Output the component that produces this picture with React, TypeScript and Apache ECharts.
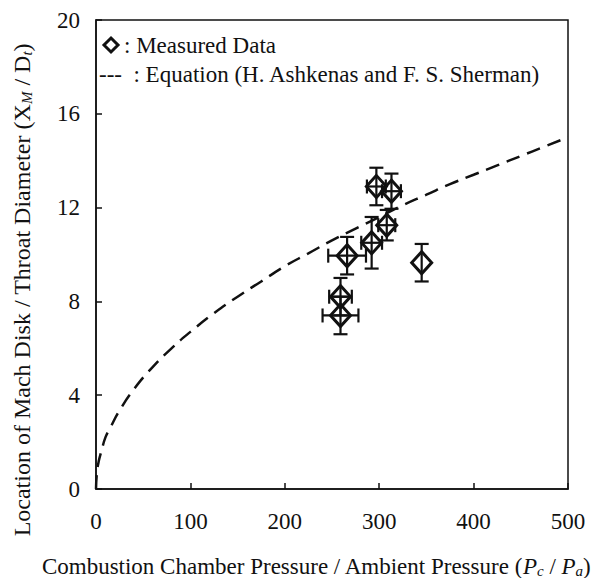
import React, { useEffect, useRef } from "react";
import * as echarts from "echarts";

// Measured data (Pc/Pa, XM/Dt) with error half-widths
const measuredX = [297, 313, 308, 292, 266, 345, 259, 259];
const measuredY = [12.9, 12.7, 11.25, 10.5, 9.95, 9.65, 8.2, 7.4];
const xErr = [10, 10, 9, 11, 20, 0, 12, 19];
const yErr = [0.8, 0.75, 0.65, 1.1, 0.8, 0.8, 0.8, 0.8];

// Equation curve (Ashkenas & Sherman)
const eqX = [0, 1, 3, 6, 10, 15, 25, 40, 60, 80, 100, 125, 150, 175, 200, 225, 250, 275, 300, 325, 350, 375, 400, 425, 450, 475, 500];
const eqY = [0, 0.7, 1.2, 1.65, 2.2, 2.6, 3.35, 4.25, 5.2, 6.0, 6.7, 7.5, 8.2, 8.85, 9.5, 10.05, 10.6, 11.1, 11.6, 12.1, 12.55, 13.0, 13.4, 13.8, 14.2, 14.6, 15.0];

const xTicks = [0, 100, 200, 300, 400, 500];
const yTicks = [0, 4, 8, 12, 16, 20];

const FONT = "Liberation Serif";
const INK = "#111";

export default function App() {
  const ref = useRef<HTMLDivElement>(null);
  useEffect(() => {
    if (!ref.current) return;
    const chart = echarts.init(ref.current, null, { renderer: "svg" });
    const errData = measuredX.map((x, i) => [x, measuredY[i], xErr[i], yErr[i]]);
    const ptData = measuredX.map((x, i) => [x, measuredY[i]]);
    const eqData = eqX.map((x, i) => [x, eqY[i]]);
    const option: any = {
      animation: false,
      backgroundColor: "#fff",
      grid: {
        left: 96,
        right: 36,
        top: 20,
        bottom: 97,
        show: true,
        borderColor: INK,
        borderWidth: 1.5,
        backgroundColor: "transparent",
        outerBoundsMode: "none",
        containLabel: false,
      },
      xAxis: {
        type: "value",
        min: xTicks[0],
        max: xTicks[xTicks.length - 1],
        interval: 100,
        axisLine: { show: true, lineStyle: { color: INK, width: 1.5 } },
        axisTick: { show: true, inside: true, length: 6, lineStyle: { color: INK, width: 1.5 } },
        splitLine: { show: false },
        axisLabel: { fontFamily: FONT, fontSize: 23, color: INK, margin: 21 },
      },
      yAxis: {
        type: "value",
        min: yTicks[0],
        max: yTicks[yTicks.length - 1],
        interval: 4,
        axisLine: { show: true, lineStyle: { color: INK, width: 1.5 } },
        axisTick: { show: true, inside: true, length: 6, lineStyle: { color: INK, width: 1.5 } },
        splitLine: { show: false },
        axisLabel: { fontFamily: FONT, fontSize: 23, color: INK, margin: 16 },
      },
      series: [
        {
          type: "line",
          data: eqData,
          smooth: true,
          showSymbol: false,
          symbol: "none",
          lineStyle: { color: INK, width: 2.5, type: [14, 8] },
          z: 2,
        },
        {
          type: "custom",
          data: errData,
          encode: { x: 0, y: 1 },
          z: 3,
          renderItem: (params: any, api: any) => {
            const x = api.value(0);
            const y = api.value(1);
            const ex = api.value(2);
            const ey = api.value(3);
            const cap = 7;
            const style = { stroke: INK, lineWidth: 2.2 };
            const children: any[] = [];
            if (ey > 0) {
              const t = api.coord([x, y + ey]);
              const b = api.coord([x, y - ey]);
              children.push(
                { type: "line", shape: { x1: t[0], y1: t[1], x2: b[0], y2: b[1] }, style },
                { type: "line", shape: { x1: t[0] - cap, y1: t[1], x2: t[0] + cap, y2: t[1] }, style },
                { type: "line", shape: { x1: b[0] - cap, y1: b[1], x2: b[0] + cap, y2: b[1] }, style }
              );
            }
            if (ex > 0) {
              const l = api.coord([x - ex, y]);
              const r = api.coord([x + ex, y]);
              children.push(
                { type: "line", shape: { x1: l[0], y1: l[1], x2: r[0], y2: r[1] }, style },
                { type: "line", shape: { x1: l[0], y1: l[1] - cap, x2: l[0], y2: l[1] + cap }, style },
                { type: "line", shape: { x1: r[0], y1: r[1] - cap, x2: r[0], y2: r[1] + cap }, style }
              );
            }
            return { type: "group", children };
          },
        },
        {
          type: "scatter",
          data: ptData,
          symbol: "diamond",
          symbolSize: [20, 22],
          itemStyle: { color: "rgba(0,0,0,0)", borderColor: INK, borderWidth: 3, opacity: 1 },
          z: 4,
        },
      ],
      graphic: [
        {
          type: "text",
          x: 22,
          y: 290,
          rotation: Math.PI / 2,
          style: {
            text: "Location of Mach Disk / Throat Diameter (X{subi|M} / D{subi|t})",
            fontFamily: FONT,
            fontSize: 24,
            fill: INK,
            align: "center",
            verticalAlign: "middle",
            rich: {
              subi: { fontSize: 15, fontFamily: FONT, fill: INK, fontStyle: "italic", padding: [10, 0, 0, 0] },
            },
          },
        },
        {
          type: "text",
          x: 316,
          y: 566,
          style: {
            text: "Combustion Chamber Pressure / Ambient Pressure ({it|P}{sub|c} / {it|P}{sub|a})",
            fontFamily: FONT,
            fontSize: 23,
            fill: INK,
            align: "center",
            verticalAlign: "middle",
            rich: {
              it: { fontFamily: FONT, fontSize: 23, fontStyle: "italic", fill: INK },
              sub: { fontSize: 15, fontFamily: FONT, fill: INK, fontStyle: "italic", padding: [10, 0, 0, 0] },
            },
          },
        },
        {
          type: "polygon",
          shape: { points: [[111, 38], [118, 45], [111, 52], [104, 45]] },
          style: { fill: "none", stroke: INK, lineWidth: 3 },
        },
        {
          type: "text",
          x: 124,
          y: 45,
          style: { text: ": Measured Data", fontFamily: FONT, fontSize: 23, fill: INK, verticalAlign: "middle" },
        },
        {
          type: "text",
          x: 99,
          y: 74,
          style: {
            text: "---  : Equation (H. Ashkenas and F. S. Sherman)",
            fontFamily: FONT,
            fontSize: 23,
            fill: INK,
            verticalAlign: "middle",
          },
        },
      ],
    };
    chart.setOption(option);
    return () => chart.dispose();
  }, []);
  return <div ref={ref} style={{ width: 604, height: 586, margin: -8 }} />;
}
